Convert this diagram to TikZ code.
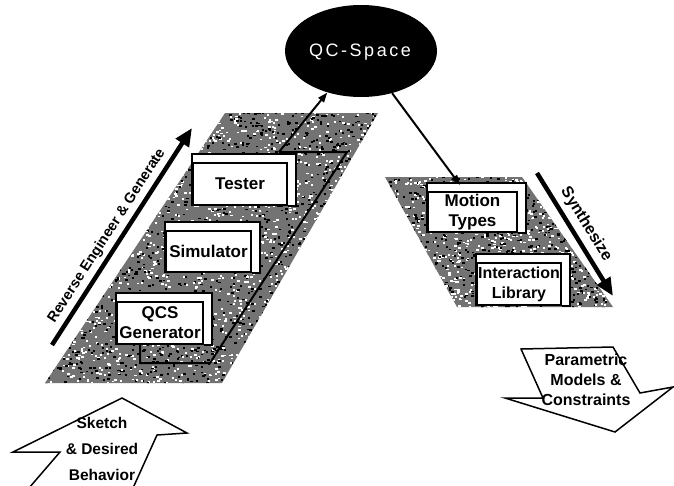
\documentclass[tikz,border=0pt]{standalone}
\usepackage{fontspec}
\setmainfont{Liberation Sans}
\newfontfamily\spacedfont[LetterSpace=14]{Liberation Sans}
\usetikzlibrary{arrows.meta,calc,shapes.geometric}
\pgfdeclarelayer{grain}
\pgfdeclarelayer{rims}
\pgfsetlayers{grain,rims,main}
\begin{document}
\begin{tikzpicture}[x=1pt,y=-1pt,
  face/.style={draw=black, line width=1.6pt, fill=white, inner sep=0pt,
    align=center, font=\bfseries\fontsize{17}{20}\selectfont},
  rim/.style={draw=black, line width=2pt, fill=white, line join=miter},
  flow/.style={line width=2pt, -{Triangle[length=10pt,width=7pt]}},
  bigarrow/.style={line width=4.5pt, -{Triangle[length=18pt,width=15pt]}},
  sidelabel/.style={font=\bfseries\fontsize{14.5}{16}\selectfont, inner sep=4pt},
  blockarrow/.style={draw=black, line width=1.5pt, fill=white, line join=miter},
  blocktext/.style={align=center}
]
\useasboundingbox (0,0) rectangle (674,485);

% grainy backdrops behind the two process stacks
\begin{pgfonlayer}{grain}
  \pgfmathsetseed{17}
  \begin{scope}
    \clip (45,383) -- (222,383) -- (378,113) -- (225,113) -- cycle;
    \fill[black!55] (40,108) rectangle (382,388);
    \foreach \k in {1,...,1900} {
      \fill[white] ({40+342*rnd},{108+280*rnd}) rectangle ++(2.4,1.8);
      \fill[black] ({40+342*rnd},{108+280*rnd}) rectangle ++(2.4,1.8);
    }
  \end{scope}
  \begin{scope}
    \clip (385,177) -- (522,177) -- (613,307) -- (457,307) -- cycle;
    \fill[black!55] (380,172) rectangle (618,312);
    \foreach \k in {1,...,850} {
      \fill[white] ({380+238*rnd},{172+140*rnd}) rectangle ++(2.4,1.8);
      \fill[black] ({380+238*rnd},{172+140*rnd}) rectangle ++(2.4,1.8);
    }
  \end{scope}
\end{pgfonlayer}

% QC-Space
\node[ellipse, fill=black, minimum width=152pt, minimum height=92pt, inner sep=0pt]
  (qc) at (361,51) {};
\node[text=white, font=\spacedfont\fontsize{18}{20}\selectfont]
  (qclabel) at (360,52) {QC-Space};

% process boxes (front faces)
\node[face, minimum width=94pt, minimum height=42pt] (tester) at (240,184) {Tester};
\node[face, minimum width=85pt, minimum height=41pt] (sim) at (208.5,251.5) {Simulator};
\node[face, minimum width=86pt, minimum height=42pt] (qcs) at (160,323) {QCS\\Generator};
\node[face, minimum width=89pt, minimum height=40pt] (motion) at (472.5,212) {Motion\\Types};
\node[face, minimum width=84pt, minimum height=42pt,
      font=\bfseries\fontsize{16}{20}\selectfont] (ilib) at (519,284) {Interaction\\Library};

% raised rims on top and right of each box
\begin{pgfonlayer}{rims}
  \foreach \b in {tester,sim,qcs,motion,ilib}
    \filldraw[rim] (\b.south west) |- ([shift={(8,-8)}]\b.north east) |- (\b.south east);
\end{pgfonlayer}

% feedback loop from the generator round to QC-Space
\coordinate (l1) at (140,363);
\coordinate (l2) at (210,363);
\coordinate (l3) at (347,152);
\coordinate (l4) at (279,152);
\draw[line width=2pt, line join=miter] (qcs.south -| l1) -- (l1) -- (l2) -- (l3) -- (l4);
\draw[flow] (l4) -- (qc);

% QC-Space down to the motion types
\coordinate (mtop) at (460,185);
\draw[flow] (qc) -- (mtop);

% side arrows
\coordinate (reA) at (52,345);
\coordinate (reB) at (192,128);
\draw[bigarrow] (reA) -- node[sidelabel, sloped, above, pos=0.47] (relabel) {Reverse Engineer \& Generate} (reB);
\coordinate (syA) at (537,173);
\coordinate (syB) at (613,296);
\draw[bigarrow] (syA) -- node[sidelabel, sloped, above, pos=0.48, inner sep=5pt,
  font=\bfseries\fontsize{16}{18}\selectfont] (sylabel) {Synthesize} (syB);

% input block arrow
\draw[blockarrow] (122,398) -- (187,433) -- (157,435) -- (133,488) -- (29,488)
  -- (60,452) -- (13,452) -- cycle;
\node[blocktext, font=\bfseries\fontsize{15.5}{26}\selectfont] (sketch) at (102,449)
  {Sketch\\\& Desired\\Behavior};

% output block arrow
\draw[blockarrow] (521,349) -- (613,347) -- (640,393) -- (673,387) -- (615,432)
  -- (505,398) -- (543,398) -- cycle;
\node[blocktext, font=\bfseries\fontsize{16}{20}\selectfont] (params) at (586,380)
  {Parametric\\Models \&\\Constraints};
\end{tikzpicture}
\end{document}
